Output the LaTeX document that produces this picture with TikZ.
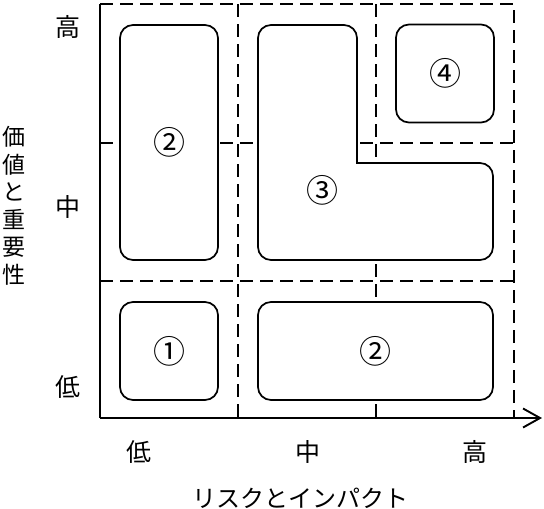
\documentclass[tikz,border=0pt]{standalone}
\usepackage{fontspec}
\setmainfont{Noto Sans CJK JP}
\usetikzlibrary{positioning}
\usetikzlibrary{arrows.meta}
\tikzset{>={Straight Barb[length=17pt,width=19pt]}}
\tikzset{zone/.style={draw,rounded corners=13pt,fill=white,line width=1.7pt,inner sep=0pt,font=\fontsize{32}{32}\selectfont}}
\tikzset{cut/.style={line width=1.6pt,dash pattern=on 13pt off 7pt}}
\tikzset{axis/.style={line width=1.9pt}}
\tikzset{lvl/.style={inner sep=0pt,font=\fontsize{25}{25}\selectfont}}

\begin{document}
\begin{tikzpicture}[x=1pt,y=-1pt]
    \useasboundingbox (0,0) rectangle (544,509);

    % dashed grid
    \draw[cut] (100,4) -- (514,4) -- (514,418);
    \draw[cut] (100,143) -- (514,143);
    \draw[cut] (100,281) -- (514,281);
    \draw[cut] (238,4) -- (238,418);
    \draw[cut] (376,4) -- (376,418);

    % zones
    \node[zone, minimum width=98pt, minimum height=235pt] (hi2) at (169,142.5) {②};
    \node[zone, minimum width=98pt, minimum height=98pt] (lo1) at (169,351) {①};
    \node[zone, minimum width=235pt, minimum height=98pt] (lo2) at (375.5,351) {②};
    \node[zone, minimum width=98pt, minimum height=98pt] (hi4) at (445,73.5) {④};
    \draw[zone] (258,25) -- (357,25) [sharp corners] -- (357,163)
      [rounded corners=13pt] -- (493,163) -- (493,260) -- (258,260) -- cycle;
    \node[zone, draw=none, fill=none] (mid3) at (322,190) {③};

    % axes
    \coordinate (o) at (100,418);
    \coordinate (ytop) at (100,4);
    \coordinate (xend) at (542,418);
    \draw[axis] (ytop) -- (o);
    \draw[axis,->] (o) -- (xend);

    \node[lvl] (yhi) at (68,27) {高};
    \node[lvl] (ymid) at (68,207) {中};
    \node[lvl] (ylo) at (68,387) {低};
    \node[lvl] (xlo) at (139,452) {低};
    \node[lvl] (xmid) at (308,452) {中};
    \node[lvl] (xhi) at (475,452) {高};
    \node[lvl, font=\fontsize{24}{24}\selectfont] (xtitle) at (300,498) {リスクとインパクト};
    \node[lvl, align=center, font=\fontsize{23}{27.5}\selectfont] (ytitle) at (14,206) {価\\値\\と\\重\\要\\性};
\end{tikzpicture}
\end{document}
